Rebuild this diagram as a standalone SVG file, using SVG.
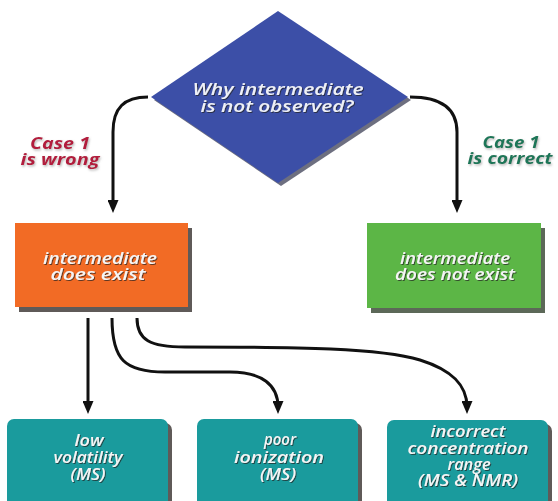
<svg xmlns="http://www.w3.org/2000/svg" width="558" height="501" viewBox="0 0 558 501">
  <style>
    .lbl { font-family: "Open Sans", "Liberation Sans", sans-serif; font-style: italic; font-weight: 600; font-size: 16px; fill: #f5f5f5; text-anchor: middle; filter: url(#txtShadow); }
    .title { font-size: 17px; fill: #eef0f6; }
    .case { font-family: "Open Sans", "Liberation Sans", sans-serif; font-style: italic; font-weight: 700; font-size: 16px; text-anchor: middle; filter: url(#caseShadow); }
    .wrong { fill: #b21f3e; }
    .correct { fill: #1f7658; }
    .shadow { fill: #5f5a58; }
    .teal { fill: #1a9b9d; }
    .conn { fill: none; stroke: #111; stroke-width: 3; marker-end: url(#arrow); }
  </style>
  <defs>
    <marker id="arrow" markerUnits="userSpaceOnUse" markerWidth="13" markerHeight="11" refX="6" refY="5.5" orient="auto">
      <path d="M0,0 L13,5.5 L0,11 z" fill="#111"/>
    </marker>
    <filter id="txtShadow" x="-10%" y="-30%" width="120%" height="160%">
      <feDropShadow dx="1" dy="1" stdDeviation="0.7" flood-color="#222" flood-opacity="0.7"/>
    </filter>
    <filter id="caseShadow" x="-10%" y="-30%" width="120%" height="160%">
      <feDropShadow dx="1" dy="1.5" stdDeviation="0.8" flood-color="#888" flood-opacity="0.6"/>
    </filter>
  </defs>

  <rect width="558" height="501" fill="#ffffff"/>

  <!-- decision -->
  <g id="decision">
    <polygon points="281,14 411,100 281,186 154,100" fill="#6d6f80"/>
    <polygon points="278,11 408,97 278,183 151,97" fill="#3c4fa7"/>
    <text class="lbl title" x="278" y="95" textLength="171" lengthAdjust="spacingAndGlyphs">Why intermediate</text>
    <text class="lbl title" x="277" y="112" textLength="153" lengthAdjust="spacingAndGlyphs">is not observed?</text>
  </g>

  <!-- branch labels -->
  <g id="label-wrong">
    <text class="case wrong" x="60" y="149" textLength="60" lengthAdjust="spacingAndGlyphs">Case 1</text>
    <text class="case wrong" x="60" y="165" textLength="79" lengthAdjust="spacingAndGlyphs">is wrong</text>
  </g>
  <g id="label-correct">
    <text class="case correct" x="511" y="148" textLength="57" lengthAdjust="spacingAndGlyphs">Case 1</text>
    <text class="case correct" x="510" y="164" textLength="85" lengthAdjust="spacingAndGlyphs">is correct</text>
  </g>

  <!-- outcome boxes -->
  <g id="exists">
    <rect class="shadow" x="19" y="228" width="173" height="84"/>
    <rect x="15" y="223" width="173" height="84" fill="#f26b25"/>
    <text class="lbl" x="100" y="264" textLength="114" lengthAdjust="spacingAndGlyphs">intermediate</text>
    <text class="lbl" x="98" y="280" textLength="95" lengthAdjust="spacingAndGlyphs">does exist</text>
  </g>
  <g id="not-exists">
    <rect x="371" y="228" width="174" height="85" fill="#5c6858"/>
    <rect x="367" y="223" width="174" height="85" fill="#5cb646"/>
    <text class="lbl" x="455" y="264" textLength="110" lengthAdjust="spacingAndGlyphs">intermediate</text>
    <text class="lbl" x="455" y="280" textLength="120" lengthAdjust="spacingAndGlyphs">does not exist</text>
  </g>

  <!-- reasons -->
  <g id="volatility">
    <rect class="shadow" x="11" y="423" width="161" height="90" rx="7"/>
    <rect class="teal" x="7" y="419" width="161" height="90" rx="7"/>
    <text class="lbl" x="89" y="446" textLength="29" lengthAdjust="spacingAndGlyphs">low</text>
    <text class="lbl" x="88" y="463" textLength="69" lengthAdjust="spacingAndGlyphs">volatility</text>
    <text class="lbl" x="88" y="480" textLength="35" lengthAdjust="spacingAndGlyphs">(MS)</text>
  </g>
  <g id="ionization">
    <rect class="shadow" x="201" y="423" width="161" height="90" rx="7"/>
    <rect class="teal" x="197" y="419" width="161" height="90" rx="7"/>
    <text class="lbl" x="280" y="445" textLength="32" lengthAdjust="spacingAndGlyphs">poor</text>
    <text class="lbl" x="279" y="463" textLength="90" lengthAdjust="spacingAndGlyphs">ionization</text>
    <text class="lbl" x="278" y="480" textLength="36" lengthAdjust="spacingAndGlyphs">(MS)</text>
  </g>
  <g id="concentration">
    <rect class="shadow" x="391" y="424" width="161" height="90" rx="7"/>
    <rect class="teal" x="387" y="420" width="161" height="90" rx="7"/>
    <text class="lbl" x="468" y="437" textLength="75" lengthAdjust="spacingAndGlyphs">incorrect</text>
    <text class="lbl" x="468" y="454" textLength="121" lengthAdjust="spacingAndGlyphs">concentration</text>
    <text class="lbl" x="469" y="470" textLength="43" lengthAdjust="spacingAndGlyphs">range</text>
    <text class="lbl" x="468" y="486" textLength="100" lengthAdjust="spacingAndGlyphs">(MS &amp; NMR)</text>
  </g>

  <!-- connectors -->
  <g id="connectors">
    <path class="conn" d="M148,97 C124,97 113,108 113,132 L113,206"/>
    <path class="conn" d="M410,97 C440,97 457,108 457,132 L457,206"/>
    <path class="conn" d="M88,318 L88,407"/>
    <path class="conn" d="M112,318 C112,360 125,372 165,372 L230,372 C262,372 278,385 278,407"/>
    <path class="conn" d="M137,318 C137,340 150,347 185,347 C300,347 380,348 420,360 C452,370 467,385 467,407"/>
  </g>
</svg>
